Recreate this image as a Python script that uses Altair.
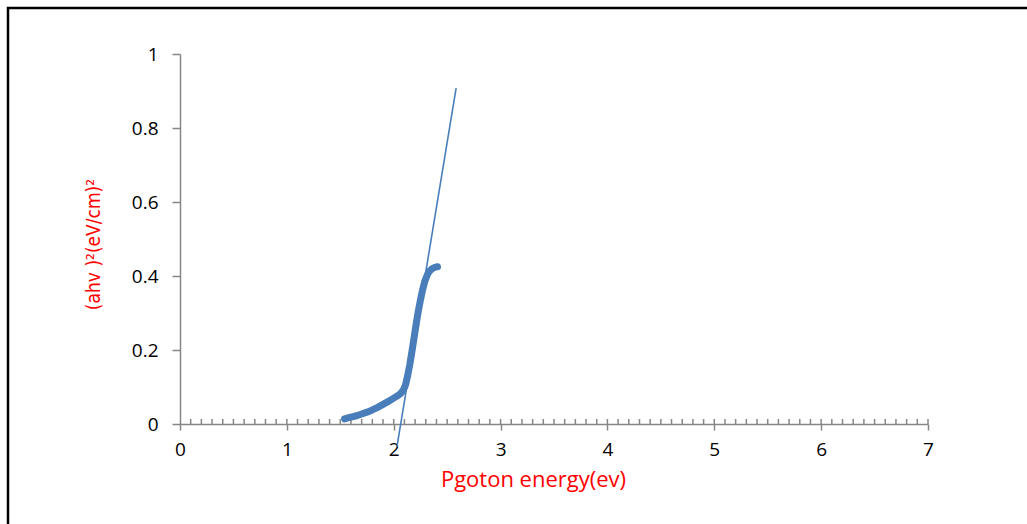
import altair as alt
import pandas as pd

# Absorption edge: (alpha h nu)^2 versus photon energy
energy = [1.54, 1.58, 1.62, 1.66, 1.70, 1.75, 1.80, 1.85, 1.90, 1.95, 2.00, 2.04,
          2.07, 2.09, 2.11, 2.13, 2.15, 2.17, 2.19, 2.21, 2.23, 2.25, 2.27, 2.29,
          2.31, 2.33, 2.36, 2.39, 2.41]
absorb = [0.014, 0.017, 0.020, 0.023, 0.027, 0.032, 0.038, 0.045, 0.053, 0.061,
          0.070, 0.077, 0.084, 0.092, 0.105, 0.13, 0.16, 0.195, 0.232, 0.27,
          0.305, 0.335, 0.362, 0.385, 0.400, 0.412, 0.420, 0.424, 0.425]

# Linear extrapolation of the steep part down to the energy axis
fit_x = [2.03, 2.584]
fit_y = [-0.062, 0.908]

# Small upward ticks along the energy axis every 0.1 eV
minor_ticks = [round(i / 10, 1) for i in range(1, 71)]

W, H = 748, 370
AXIS_GRAY = "#868686"
BLUE = "#4a7ebb"
LABEL_FONT = "'Open Sans', 'Noto Sans', sans-serif"

curve_df = pd.DataFrame({"E": energy, "A": absorb})
fit_df = pd.DataFrame({"E": fit_x, "A": fit_y})
tick_df = pd.DataFrame({"E": minor_ticks})

x_scale = alt.Scale(domain=[0, 7], nice=False, zero=False)
y_scale = alt.Scale(domain=[0, 1], nice=False, zero=False)

x_axis = alt.Axis(
    values=[0, 1, 2, 3, 4, 5, 6, 7], grid=False, tickSize=6, tickColor=AXIS_GRAY,
    domainColor=AXIS_GRAY, domainWidth=1.5, tickWidth=1.5, labelFont=LABEL_FONT,
    labelFontSize=19, labelColor="#000000", labelPadding=10, labelFlush=False,
    title="Pgoton energy(ev)", titleColor="#ff0000", titleFont=LABEL_FONT,
    titleFontSize=22, titleFontWeight="normal", titleX=353, titleY=55,
    titleAlign="center", titleBaseline="middle",
)
y_axis = alt.Axis(
    values=[0, 0.2, 0.4, 0.6, 0.8, 1.0], format="~g", grid=False, tickSize=8,
    tickColor=AXIS_GRAY, domainColor=AXIS_GRAY, domainWidth=1.5, tickWidth=1.5,
    labelFont=LABEL_FONT, labelFontSize=19, labelColor="#000000", labelPadding=14,
    labelFlush=False,
    title="(ahv )²(eV/cm)²", titleColor="#ff0000",
    titleFont="'DejaVu Sans Condensed', 'Liberation Sans', sans-serif",
    titleFontSize=19, titleFontWeight="normal", titleAngle=270, titleX=-87, titleY=190,
    titleAlign="center", titleBaseline="middle",
)

frame = alt.Chart(pd.DataFrame({"k": [0]})).mark_rect(
    fill="transparent", stroke="#000000", strokeWidth=2.5
).encode(
    x=alt.value(-172), x2=alt.value(1200), y=alt.value(-46), y2=alt.value(700)
)

ticks = alt.Chart(tick_df).mark_rule(color=AXIS_GRAY, strokeWidth=1.5).encode(
    x=alt.X("E:Q", scale=x_scale, axis=x_axis),
    y=alt.value(H),
    y2=alt.value(H - 5),
)

curve = alt.Chart(curve_df).mark_line(
    color=BLUE, strokeWidth=7, strokeCap="round", strokeJoin="round"
).encode(
    x=alt.X("E:Q", scale=x_scale, axis=x_axis),
    y=alt.Y("A:Q", scale=y_scale, axis=y_axis),
    order="E:Q",
)

fit = alt.Chart(fit_df).mark_line(color=BLUE, strokeWidth=1.6).encode(
    x=alt.X("E:Q", scale=x_scale, axis=x_axis),
    y=alt.Y("A:Q", scale=y_scale, axis=y_axis),
)

chart = alt.layer(frame, ticks, fit, curve).properties(
    width=W, height=H,
    autosize=alt.AutoSizeParams(type="none"),
    padding={"left": 180, "top": 54, "right": 99, "bottom": 100},
    background="#ffffff",
).configure_view(stroke="transparent")

chart.save("out.html", embed_options={"renderer": "svg", "actions": False})
